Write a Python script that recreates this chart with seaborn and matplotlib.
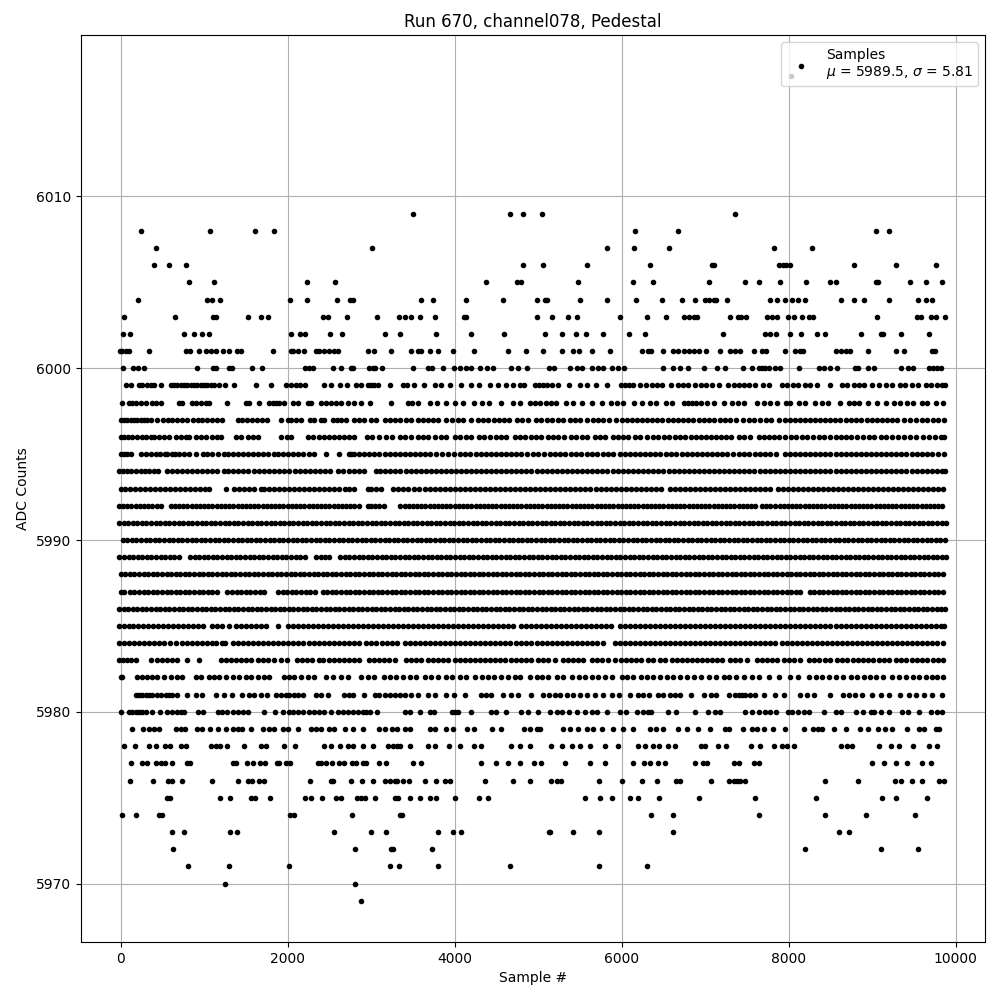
import matplotlib
matplotlib.use("Agg")
import matplotlib.pyplot as plt
import seaborn as sns
import pandas as pd

L6017 = [8030]
L6009 = [3500, 4660, 4820, 5050, 7360]
L6008 = [248, 1076, 1604, 1832, 6160, 6680, 9040, 9200]
L6007 = [428, 3008, 5820, 6150, 6570, 7820, 8280]
L6006 = [404, 584, 788, 4820, 5060, 5580, 6340, 7080, 7110, 7880, 7930, 7970, 8010, 8780, 9280, 9760]
L6005 = [824, 1124, 2228, 2564, 4380, 4750, 4800, 5480, 6130, 6380, 7040, 7480, 7640, 7900, 8210, 8500, 8560, 9040, 9070, 9450, 9640, 9840]
L6004 = [212, 1040, 1100, 1196, 2024, 2228, 2588, 2750, 2780, 3600, 3740, 4140, 4580, 4980, 5080, 5110, 5500, 5830, 6170, 6480, 6720, 6880, 7000, 7040, 7100, 7130, 7260, 7780, 7860, 7950, 8040, 8110, 8190, 8620, 8780, 8900, 9200, 9550, 9640, 9720]
L6003 = [44, 656, 1112, 1140, 1520, 1676, 1760, 2420, 2480, 2708, 3068, 3332, 3400, 3480, 3590, 3760, 4110, 4140, 4980, 5160, 5360, 5470, 5980, 6300, 6530, 6740, 6800, 6860, 6900, 7300, 7390, 7430, 7490, 7740, 7800, 7860, 7990, 8060, 8160, 8240, 8290, 9060, 9540, 9580, 9700, 9760, 9870]
L6002 = [32, 116, 764, 884, 980, 1064, 2036, 2144, 2204, 2504, 2648, 3164, 3340, 3780, 4200, 4590, 5080, 5290, 5450, 5570, 5780, 6090, 6280, 7210, 7720, 7780, 7850, 8020, 8150, 8340, 8440, 8870, 9100, 9130, 9340, 9680]
L6001 = [-12, 20, 60, 100, 344, 788, 828, 944, 1028, 1088, 1148, 1232, 1304, 1388, 1436, 1820, 2036, 2068, 2124, 2200, 2340, 2380, 2440, 2492, 2552, 2604, 2960, 3032, 3240, 3480, 3560, 3600, 3700, 3800, 3980, 4230, 4640, 4860, 5060, 5280, 5420, 5490, 5650, 5860, 6240, 6310, 6350, 6500, 6610, 6680, 6740, 6810, 6860, 6920, 7010, 7180, 7300, 7360, 7420, 7580, 7680, 7730, 7960, 8080, 8130, 8170, 8560, 8630, 8680, 8730, 8950, 9280, 9380, 9720, 9750]
L6000 = [32, 152, 212, 284, 920, 1112, 1148, 1300, 1332, 1568, 1688, 2208, 2252, 2300, 2540, 2640, 2760, 2788, 2972, 3020, 3052, 3132, 3500, 3680, 3730, 3860, 3990, 4060, 4130, 4200, 4300, 4390, 4460, 4670, 4760, 4870, 5130, 5190, 5380, 5460, 5530, 5650, 5720, 5780, 5880, 5950, 6030, 6500, 6610, 6700, 6790, 6980, 7140, 7240, 7450, 7560, 7640, 7680, 7720, 7760, 7830, 7890, 8120, 8360, 8420, 8490, 8580, 8790, 8830, 8950, 9020, 9340, 9430, 9490, 9680, 9730, 9770, 9820]
L5999 = [60, 128, 220, 260, 312, 360, 400, 480, 600, 640, 680, 720, 760, 800, 840, 880, 920, 960, 1000, 1040, 1080, 1120, 1180, 1256, 1352, 1616, 1796, 1980, 2040, 2100, 2152, 2208, 2432, 2520, 2632, 2708, 2820, 2880, 2960, 3000, 3040, 3080, 3224, 3380, 3430, 3510, 3630, 3770, 3840, 3950, 4080, 4200, 4290, 4420, 4520, 4620, 4700, 4780, 4830, 4960, 5010, 5060, 5100, 5160, 5240, 5370, 5500, 5590, 5690, 5830, 5990, 6040, 6090, 6140, 6220, 6290, 6360, 6420, 6480, 6590, 6670, 6730, 6790, 6880, 6950, 7010, 7080, 7160, 7270, 7340, 7400, 7470, 7530, 7600, 7690, 7760, 7920, 7980, 8050, 8110, 8200, 8250, 8340, 8500, 8640, 8700, 8780, 8840, 8900, 9000, 9080, 9160, 9240, 9330, 9390, 9470, 9550, 9640, 9700, 9770, 9840, 9870]
L5998 = [20, 100, 140, 180, 240, 300, 380, 420, 480, 700, 740, 860, 900, 960, 1020, 1060, 1280, 1500, 1540, 1660, 1780, 1820, 1860, 1900, 1960, 2060, 2120, 2240, 2280, 2400, 2460, 2520, 2580, 2640, 2720, 2800, 2880, 2990, 3240, 3440, 3490, 3560, 3700, 3790, 3900, 4010, 4100, 4230, 4330, 4410, 4560, 4700, 4780, 4900, 4960, 5020, 5090, 5150, 5210, 5330, 5420, 5530, 5650, 5770, 5870, 5940, 6020, 6150, 6240, 6340, 6410, 6530, 6600, 6740, 6790, 6840, 6890, 6950, 7020, 7100, 7220, 7320, 7390, 7460, 7620, 7700, 7780, 7860, 7970, 8010, 8120, 8190, 8320, 8400, 8470, 8610, 8720, 8780, 8840, 8950, 9060, 9160, 9260, 9330, 9420, 9490, 9600, 9660, 9760, 9850]
L5997 = [0, 40, 80, 120, 160, 200, 240, 280, 320, 370, 430, 510, 570, 620, 680, 740, 800, 870, 930, 980, 1040, 1090, 1150, 1220, 1400, 1450, 1510, 1570, 1630, 1690, 1750, 1920, 2000, 2040, 2100, 2160, 2270, 2320, 2400, 2440, 2540, 2590, 2640, 2700, 2800, 2860, 2920, 3000, 3060, 3160, 3230, 3290, 3340, 3420, 3480, 3560, 3620, 3680, 3740, 3800, 3900, 3970, 4040, 4100, 4190, 4280, 4340, 4400, 4470, 4530, 4590, 4650, 4750, 4810, 4880, 4970, 5030, 5100, 5170, 5240, 5300, 5380, 5440, 5500, 5590, 5660, 5720, 5780, 5850, 5930, 6000, 6060, 6120, 6180, 6240, 6300, 6360, 6420, 6480, 6550, 6610, 6670, 6730, 6790, 6850, 6920, 6980, 7040, 7110, 7180, 7240, 7300, 7370, 7450, 7520, 7590, 7660, 7730, 7790, 7880, 7950, 8010, 8070, 8130, 8190, 8250, 8310, 8370, 8430, 8490, 8550, 8610, 8680, 8750, 8810, 8870, 8940, 9000, 9060, 9120, 9180, 9240, 9300, 9380, 9450, 9520, 9590, 9660, 9730, 9790, 9860]
L5996 = [0, 40, 90, 140, 200, 260, 310, 360, 400, 460, 520, 580, 660, 720, 780, 820, 900, 960, 1020, 1100, 1160, 1200, 1380, 1440, 1520, 1590, 1650, 1920, 1990, 2040, 2240, 2300, 2380, 2430, 2500, 2560, 2620, 2680, 2740, 2800, 2950, 3010, 3100, 3180, 3250, 3340, 3410, 3480, 3560, 3620, 3680, 3760, 3840, 3900, 4000, 4060, 4140, 4200, 4290, 4350, 4420, 4490, 4560, 4620, 4720, 4780, 4840, 4910, 4970, 5030, 5120, 5180, 5240, 5310, 5390, 5450, 5520, 5590, 5680, 5740, 5800, 5900, 5960, 6020, 6080, 6160, 6220, 6300, 6370, 6430, 6510, 6570, 6640, 6700, 6760, 6830, 6890, 6950, 7010, 7070, 7130, 7190, 7250, 7310, 7400, 7470, 7540, 7640, 7700, 7760, 7820, 7880, 7950, 8030, 8090, 8160, 8220, 8290, 8360, 8420, 8490, 8560, 8620, 8690, 8750, 8820, 8890, 8960, 9020, 9100, 9170, 9240, 9310, 9380, 9450, 9520, 9610, 9680, 9750, 9820, 9860]
L5995 = [0, 40, 80, 120, 240, 300, 370, 420, 470, 530, 560, 610, 650, 700, 760, 820, 900, 990, 1040, 1100, 1170, 1240, 1290, 1350, 1400, 1460, 1530, 1590, 1640, 1700, 1760, 1840, 1890, 1940, 2000, 2060, 2120, 2180, 2250, 2320, 2460, 2620, 2730, 2760, 2800, 2850, 2920, 2980, 3040, 3100, 3160, 3220, 3280, 3340, 3400, 3460, 3530, 3590, 3650, 3710, 3780, 3850, 3920, 3990, 4060, 4120, 4180, 4250, 4310, 4370, 4430, 4490, 4550, 4610, 4670, 4730, 4790, 4870, 4940, 5000, 5070, 5140, 5200, 5260, 5320, 5390, 5450, 5510, 5580, 5640, 5710, 5780, 5840, 5900, 5980, 6040, 6100, 6160, 6220, 6280, 6340, 6400, 6460, 6530, 6590, 6650, 6720, 6780, 6840, 6900, 6960, 7020, 7080, 7140, 7200, 7260, 7330, 7400, 7470, 7530, 7600, 7660, 7720, 7780, 7850, 7950, 8010, 8070, 8130, 8190, 8250, 8310, 8370, 8430, 8500, 8560, 8620, 8680, 8740, 8800, 8870, 8930, 8990, 9050, 9110, 9170, 9230, 9290, 9350, 9410, 9470, 9530, 9590, 9660, 9720, 9790, 9860]
L5994 = [-20, 30, 80, 130, 180, 240, 290, 340, 400, 450, 550, 610, 670, 730, 790, 850, 910, 970, 1030, 1090, 1160, 1240, 1290, 1350, 1410, 1470, 1530, 1600, 1660, 1720, 1780, 1840, 1900, 1960, 2020, 2090, 2150, 2210, 2270, 2330, 2390, 2450, 2510, 2600, 2660, 2740, 2790, 2850, 2910, 3060, 3110, 3170, 3230, 3290, 3350, 3420, 3480, 3540, 3600, 3660, 3720, 3780, 3840, 3900, 3960, 4020, 4080, 4140, 4200, 4260, 4320, 4380, 4440, 4500, 4560, 4620, 4680, 4740, 4800, 4860, 4920, 4980, 5040, 5100, 5160, 5220, 5280, 5340, 5400, 5460, 5520, 5580, 5640, 5700, 5770, 5830, 5900, 5960, 6020, 6080, 6140, 6200, 6260, 6320, 6380, 6440, 6500, 6570, 6630, 6690, 6750, 6810, 6870, 6930, 6990, 7050, 7110, 7170, 7230, 7290, 7350, 7410, 7470, 7530, 7590, 7650, 7710, 7780, 7840, 7900, 7960, 8020, 8080, 8140, 8200, 8260, 8320, 8380, 8440, 8500, 8560, 8620, 8680, 8740, 8810, 8870, 8930, 8990, 9050, 9110, 9170, 9230, 9290, 9350, 9410, 9470, 9530, 9590, 9650, 9710, 9770, 9830, 9870]
L5993 = [0, 50, 110, 170, 230, 290, 350, 410, 470, 530, 590, 650, 710, 770, 830, 890, 950, 1010, 1060, 1260, 1360, 1420, 1480, 1540, 1600, 1680, 1720, 1780, 1840, 1900, 1960, 2020, 2080, 2140, 2200, 2260, 2320, 2380, 2440, 2500, 2560, 2620, 2690, 2740, 2800, 2960, 3000, 3060, 3120, 3260, 3320, 3380, 3440, 3510, 3570, 3640, 3700, 3760, 3820, 3880, 3940, 4000, 4060, 4120, 4180, 4240, 4300, 4360, 4420, 4480, 4540, 4600, 4660, 4720, 4780, 4840, 4900, 4960, 5020, 5080, 5140, 5200, 5260, 5320, 5380, 5440, 5500, 5560, 5620, 5690, 5750, 5810, 5870, 5930, 5990, 6050, 6110, 6170, 6230, 6290, 6350, 6410, 6470, 6580, 6640, 6700, 6760, 6820, 6880, 6940, 7000, 7060, 7120, 7180, 7240, 7300, 7360, 7420, 7480, 7540, 7600, 7660, 7720, 7780, 7870, 7930, 7990, 8050, 8110, 8170, 8230, 8290, 8350, 8410, 8470, 8530, 8590, 8650, 8710, 8770, 8830, 8890, 8950, 9010, 9070, 9130, 9190, 9250, 9310, 9370, 9430, 9490, 9550, 9610, 9670, 9730, 9790, 9850]
L5992 = [-20, 30, 80, 130, 180, 230, 280, 330, 380, 430, 480, 600, 650, 700, 750, 800, 850, 900, 950, 1000, 1050, 1100, 1150, 1200, 1250, 1300, 1350, 1400, 1450, 1500, 1550, 1600, 1650, 1700, 1750, 1800, 1850, 1900, 1950, 2000, 2050, 2100, 2150, 2200, 2250, 2300, 2350, 2400, 2450, 2500, 2550, 2600, 2650, 2700, 2750, 2800, 2850, 2960, 3000, 3050, 3100, 3150, 3340, 3400, 3450, 3500, 3550, 3600, 3650, 3700, 3750, 3800, 3850, 3900, 3950, 4000, 4050, 4100, 4150, 4200, 4250, 4300, 4350, 4400, 4450, 4500, 4550, 4600, 4650, 4700, 4750, 4800, 4850, 4900, 4950, 5000, 5050, 5100, 5150, 5200, 5250, 5300, 5350, 5400, 5450, 5500, 5550, 5600, 5650, 5700, 5750, 5800, 5850, 5900, 5950, 6000, 6050, 6100, 6150, 6200, 6250, 6300, 6350, 6400, 6450, 6500, 6550, 6600, 6650, 6700, 6750, 6800, 6850, 6900, 6950, 7000, 7050, 7100, 7150, 7200, 7250, 7300, 7350, 7400, 7450, 7500, 7550, 7600, 7680, 7730, 7780, 7840, 7890, 7940, 7990, 8040, 8090, 8140, 8190, 8240, 8290, 8340, 8390, 8440, 8490, 8540, 8590, 8640, 8690, 8740, 8790, 8840, 8890, 8940, 8990, 9040, 9090, 9140, 9190, 9240, 9290, 9340, 9390, 9440, 9490, 9540, 9590, 9640, 9690, 9740, 9790, 9840]
L5991 = [-15, 35, 90, 145, 200, 255, 310, 365, 420, 475, 530, 585, 640, 695, 750, 805, 860, 915, 970, 1025, 1080, 1135, 1190, 1245, 1300, 1355, 1410, 1465, 1520, 1575, 1630, 1685, 1740, 1795, 1850, 1905, 1960, 2015, 2070, 2125, 2180, 2235, 2290, 2345, 2400, 2455, 2510, 2565, 2620, 2675, 2730, 2785, 2840, 2895, 2950, 3005, 3060, 3115, 3170, 3225, 3280, 3335, 3390, 3445, 3500, 3555, 3610, 3665, 3720, 3775, 3830, 3885, 3940, 3995, 4050, 4105, 4160, 4215, 4270, 4325, 4380, 4435, 4490, 4545, 4600, 4655, 4710, 4765, 4820, 4875, 4930, 4985, 5040, 5095, 5150, 5205, 5260, 5315, 5370, 5425, 5480, 5535, 5590, 5645, 5700, 5755, 5810, 5865, 5920, 5975, 6030, 6085, 6140, 6195, 6250, 6305, 6360, 6415, 6470, 6525, 6580, 6640, 6695, 6750, 6805, 6860, 6915, 6970, 7025, 7080, 7135, 7190, 7245, 7300, 7355, 7410, 7465, 7520, 7575, 7630, 7685, 7740, 7795, 7850, 7905, 7960, 8015, 8070, 8125, 8180, 8235, 8290, 8345, 8400, 8455, 8510, 8565, 8620, 8675, 8730, 8785, 8840, 8895, 8950, 9005, 9060, 9115, 9170, 9225, 9280, 9335, 9390, 9445, 9500, 9555, 9610, 9665, 9720, 9775, 9830, 9880]
L5990 = [25, 80, 135, 190, 245, 300, 355, 410, 465, 520, 575, 630, 685, 740, 795, 850, 905, 960, 1015, 1070, 1125, 1180, 1235, 1290, 1345, 1400, 1455, 1510, 1565, 1620, 1675, 1730, 1785, 1840, 1895, 1950, 2005, 2060, 2115, 2170, 2225, 2280, 2335, 2390, 2445, 2500, 2555, 2610, 2665, 2720, 2775, 2830, 2885, 2940, 2995, 3050, 3105, 3160, 3215, 3270, 3325, 3380, 3435, 3490, 3545, 3600, 3655, 3710, 3765, 3820, 3875, 3930, 3985, 4040, 4095, 4150, 4205, 4260, 4315, 4370, 4425, 4480, 4535, 4590, 4645, 4700, 4755, 4810, 4865, 4920, 4975, 5030, 5085, 5140, 5195, 5250, 5305, 5360, 5415, 5470, 5525, 5580, 5635, 5690, 5745, 5800, 5855, 5910, 5965, 6020, 6075, 6130, 6185, 6240, 6295, 6350, 6405, 6460, 6515, 6570, 6625, 6680, 6735, 6790, 6845, 6900, 6955, 7010, 7065, 7120, 7175, 7230, 7285, 7340, 7395, 7450, 7505, 7560, 7615, 7670, 7725, 7780, 7835, 7890, 7945, 8000, 8055, 8110, 8165, 8220, 8275, 8330, 8385, 8440, 8495, 8550, 8605, 8660, 8715, 8770, 8825, 8880, 8935, 8990, 9045, 9100, 9155, 9210, 9265, 9320, 9375, 9430, 9485, 9540, 9595, 9650, 9705, 9760, 9815, 9870]
L5989 = [-15, 40, 95, 150, 205, 260, 315, 370, 425, 480, 535, 590, 645, 700, 830, 885, 940, 995, 1050, 1105, 1160, 1215, 1270, 1325, 1380, 1435, 1490, 1545, 1600, 1655, 1710, 1765, 1820, 1875, 1930, 1985, 2040, 2095, 2150, 2205, 2340, 2395, 2450, 2500, 2630, 2685, 2740, 2795, 2850, 2905, 2960, 3015, 3070, 3125, 3180, 3235, 3290, 3345, 3400, 3455, 3510, 3565, 3620, 3675, 3730, 3785, 3840, 3895, 3950, 4005, 4060, 4115, 4170, 4225, 4280, 4335, 4390, 4445, 4500, 4555, 4610, 4665, 4720, 4775, 4830, 4885, 4940, 4995, 5050, 5105, 5160, 5215, 5270, 5325, 5380, 5435, 5490, 5545, 5600, 5655, 5710, 5765, 5820, 5875, 5930, 5985, 6040, 6095, 6150, 6205, 6260, 6315, 6370, 6425, 6480, 6535, 6590, 6645, 6700, 6755, 6810, 6865, 6920, 6975, 7030, 7085, 7140, 7195, 7250, 7305, 7360, 7415, 7470, 7525, 7580, 7635, 7690, 7745, 7800, 7855, 7910, 7965, 8020, 8075, 8130, 8185, 8240, 8295, 8350, 8405, 8460, 8515, 8570, 8625, 8680, 8735, 8790, 8845, 8900, 8955, 9010, 9065, 9120, 9175, 9230, 9285, 9340, 9395, 9450, 9505, 9560, 9615, 9670, 9725, 9780, 9835, 9880]
L5988 = [0, 55, 110, 165, 220, 275, 330, 385, 440, 495, 550, 605, 660, 715, 770, 825, 880, 935, 990, 1045, 1100, 1155, 1210, 1265, 1320, 1375, 1430, 1485, 1540, 1595, 1650, 1705, 1760, 1815, 1870, 1925, 1980, 2035, 2090, 2145, 2200, 2255, 2310, 2365, 2420, 2475, 2530, 2585, 2640, 2695, 2750, 2805, 2860, 2915, 2970, 3025, 3080, 3135, 3190, 3245, 3300, 3355, 3410, 3465, 3520, 3575, 3630, 3685, 3740, 3795, 3850, 3905, 3960, 4015, 4070, 4125, 4180, 4235, 4290, 4345, 4400, 4455, 4510, 4565, 4620, 4675, 4730, 4785, 4840, 4895, 4950, 5005, 5060, 5115, 5170, 5225, 5280, 5335, 5390, 5445, 5500, 5555, 5610, 5665, 5720, 5775, 5830, 5885, 5940, 5995, 6050, 6105, 6160, 6215, 6270, 6325, 6380, 6435, 6490, 6545, 6600, 6655, 6710, 6765, 6820, 6875, 6930, 6985, 7040, 7095, 7150, 7205, 7260, 7315, 7370, 7425, 7480, 7535, 7590, 7645, 7700, 7755, 7810, 7865, 7920, 7975, 8030, 8085, 8140, 8195, 8250, 8305, 8360, 8415, 8470, 8525, 8580, 8635, 8690, 8745, 8800, 8855, 8910, 8965, 9020, 9075, 9130, 9185, 9240, 9295, 9350, 9405, 9460, 9515, 9570, 9625, 9680, 9735, 9790, 9845]
L5987 = [0, 40, 110, 165, 220, 275, 330, 385, 440, 495, 550, 605, 660, 715, 770, 825, 880, 935, 990, 1045, 1100, 1160, 1280, 1335, 1390, 1445, 1500, 1555, 1610, 1665, 1720, 1880, 1940, 1995, 2050, 2105, 2160, 2215, 2270, 2325, 2420, 2475, 2530, 2585, 2640, 2695, 2750, 2805, 2860, 2915, 2970, 3025, 3080, 3135, 3190, 3245, 3300, 3355, 3410, 3465, 3520, 3575, 3630, 3685, 3740, 3795, 3850, 3905, 3960, 4015, 4070, 4125, 4180, 4235, 4290, 4345, 4400, 4455, 4510, 4565, 4620, 4675, 4730, 4785, 4840, 4895, 4950, 5005, 5060, 5115, 5170, 5225, 5280, 5335, 5390, 5445, 5500, 5555, 5610, 5665, 5720, 5775, 5830, 5885, 5940, 5995, 6050, 6105, 6160, 6215, 6270, 6325, 6380, 6435, 6490, 6545, 6600, 6655, 6710, 6765, 6820, 6875, 6930, 6985, 7040, 7095, 7150, 7205, 7260, 7315, 7370, 7425, 7480, 7535, 7590, 7645, 7700, 7755, 7810, 7865, 7920, 7975, 8030, 8085, 8140, 8250, 8305, 8360, 8415, 8470, 8525, 8580, 8635, 8690, 8745, 8800, 8855, 8910, 8965, 9020, 9075, 9130, 9185, 9240, 9295, 9350, 9405, 9460, 9515, 9570, 9625, 9680, 9735, 9790, 9845]
L5986 = [-20, 35, 90, 145, 200, 255, 310, 365, 420, 475, 530, 585, 640, 695, 750, 805, 860, 915, 970, 1025, 1080, 1135, 1190, 1245, 1300, 1355, 1410, 1465, 1520, 1575, 1630, 1685, 1740, 1795, 1850, 1905, 1960, 2015, 2070, 2125, 2180, 2235, 2290, 2345, 2400, 2455, 2510, 2565, 2620, 2675, 2730, 2785, 2840, 2895, 2950, 3005, 3060, 3115, 3170, 3225, 3280, 3335, 3390, 3445, 3500, 3555, 3610, 3665, 3720, 3775, 3830, 3885, 3940, 3995, 4050, 4105, 4160, 4215, 4270, 4325, 4380, 4435, 4490, 4545, 4600, 4655, 4710, 4765, 4820, 4875, 4930, 4985, 5040, 5095, 5150, 5205, 5260, 5315, 5370, 5425, 5480, 5535, 5590, 5645, 5700, 5755, 5810, 5865, 5920, 5975, 6030, 6085, 6140, 6195, 6250, 6305, 6360, 6415, 6470, 6525, 6580, 6635, 6690, 6745, 6800, 6855, 6910, 6965, 7020, 7075, 7130, 7185, 7240, 7295, 7350, 7405, 7460, 7515, 7570, 7625, 7680, 7735, 7790, 7845, 7900, 7955, 8010, 8065, 8120, 8175, 8230, 8285, 8340, 8395, 8450, 8505, 8560, 8615, 8670, 8725, 8780, 8835, 8890, 8945, 9000, 9055, 9110, 9165, 9220, 9275, 9330, 9385, 9440, 9495, 9550, 9605, 9660, 9715, 9770, 9825, 9870]
L5985 = [-20, 40, 95, 150, 210, 270, 330, 390, 450, 510, 570, 630, 690, 750, 810, 870, 930, 990, 1100, 1160, 1220, 1300, 1380, 1440, 1500, 1560, 1620, 1680, 1740, 1880, 2000, 2060, 2120, 2180, 2240, 2300, 2360, 2420, 2480, 2540, 2600, 2660, 2720, 2780, 2840, 2900, 2960, 3020, 3080, 3140, 3200, 3260, 3320, 3380, 3440, 3500, 3560, 3620, 3680, 3740, 3800, 3860, 3920, 3980, 4040, 4100, 4160, 4220, 4280, 4340, 4400, 4460, 4520, 4580, 4640, 4700, 4790, 4850, 4910, 4970, 5030, 5090, 5150, 5210, 5270, 5330, 5390, 5450, 5510, 5570, 5630, 5690, 5750, 5810, 5870, 5980, 6040, 6100, 6160, 6220, 6280, 6340, 6400, 6460, 6520, 6580, 6640, 6700, 6760, 6820, 6880, 6940, 7000, 7060, 7120, 7180, 7240, 7300, 7360, 7420, 7480, 7540, 7600, 7660, 7720, 7780, 7840, 7900, 7960, 8020, 8080, 8140, 8200, 8260, 8320, 8380, 8440, 8500, 8560, 8620, 8680, 8740, 8800, 8860, 8920, 8980, 9040, 9100, 9160, 9220, 9280, 9340, 9400, 9460, 9520, 9580, 9640, 9700, 9760, 9820, 9860]
L5984 = [-20, 40, 100, 160, 220, 280, 340, 400, 460, 520, 590, 660, 740, 800, 860, 920, 980, 1040, 1100, 1140, 1220, 1250, 1340, 1400, 1460, 1520, 1580, 1640, 1700, 1760, 1830, 1890, 1950, 2010, 2070, 2130, 2190, 2250, 2310, 2370, 2430, 2490, 2550, 2610, 2680, 2740, 2800, 2860, 2940, 3000, 3060, 3130, 3190, 3250, 3310, 3400, 3460, 3520, 3580, 3640, 3700, 3760, 3820, 3880, 3940, 4000, 4060, 4120, 4180, 4240, 4300, 4360, 4420, 4480, 4540, 4600, 4660, 4740, 4800, 4860, 4920, 4980, 5040, 5100, 5160, 5220, 5280, 5340, 5400, 5460, 5520, 5580, 5640, 5700, 5780, 5920, 5980, 6040, 6100, 6160, 6220, 6280, 6340, 6400, 6460, 6520, 6580, 6640, 6700, 6760, 6820, 6880, 6940, 7000, 7060, 7120, 7180, 7240, 7300, 7360, 7420, 7480, 7540, 7600, 7660, 7720, 7780, 7840, 7920, 7980, 8040, 8100, 8160, 8220, 8280, 8340, 8400, 8460, 8520, 8580, 8640, 8700, 8760, 8820, 8880, 8940, 9000, 9060, 9120, 9180, 9240, 9300, 9360, 9420, 9480, 9540, 9600, 9660, 9720, 9780, 9850]
L5983 = [-20, 30, 80, 130, 180, 360, 440, 500, 560, 620, 680, 800, 940, 1200, 1260, 1320, 1380, 1440, 1500, 1560, 1640, 1700, 1760, 1840, 1920, 1990, 2110, 2170, 2230, 2290, 2370, 2420, 2500, 2560, 2620, 2680, 2740, 2800, 2860, 2970, 3030, 3090, 3150, 3210, 3290, 3420, 3480, 3540, 3600, 3680, 3740, 3800, 3860, 3920, 4000, 4060, 4120, 4180, 4240, 4300, 4360, 4420, 4480, 4540, 4600, 4680, 4740, 4800, 4860, 4920, 5000, 5060, 5120, 5200, 5300, 5360, 5420, 5480, 5540, 5640, 5700, 5760, 5840, 5920, 5990, 6050, 6110, 6170, 6230, 6320, 6380, 6460, 6520, 6600, 6660, 6720, 6780, 6840, 6900, 6960, 7020, 7080, 7140, 7200, 7300, 7360, 7420, 7500, 7620, 7680, 7740, 7800, 7860, 7940, 8000, 8060, 8140, 8240, 8300, 8360, 8440, 8500, 8580, 8640, 8700, 8770, 8830, 8890, 8950, 9010, 9080, 9140, 9200, 9280, 9340, 9400, 9470, 9530, 9600, 9660, 9730, 9790, 9850]
L5982 = [0, 20, 200, 260, 320, 380, 440, 520, 600, 680, 740, 900, 960, 1060, 1120, 1180, 1260, 1340, 1420, 1500, 1560, 1640, 1720, 1780, 1960, 2020, 2080, 2160, 2240, 2320, 2460, 2540, 2640, 2720, 2880, 2960, 3040, 3150, 3220, 3300, 3380, 3460, 3540, 3640, 3720, 3800, 3900, 3970, 4060, 4140, 4240, 4330, 4400, 4470, 4560, 4640, 4720, 4780, 4900, 4980, 5040, 5120, 5220, 5300, 5400, 5490, 5560, 5640, 5720, 5800, 5880, 6000, 6060, 6140, 6230, 6300, 6380, 6460, 6540, 6620, 6700, 6780, 6860, 6950, 7040, 7130, 7220, 7290, 7370, 7460, 7560, 7640, 7760, 7880, 8020, 8110, 8240, 8330, 8400, 8480, 8560, 8650, 8740, 8820, 8900, 8970, 9050, 9130, 9240, 9320, 9400, 9490, 9560, 9640, 9710, 9780, 9850]
L5981 = [180, 220, 260, 300, 340, 380, 440, 480, 540, 580, 620, 680, 800, 908, 980, 1148, 1244, 1328, 1448, 1540, 1600, 1680, 1748, 1860, 1920, 1980, 2020, 2080, 2120, 2180, 2340, 2400, 2480, 2680, 2740, 2780, 2912, 3052, 3100, 3160, 3220, 3280, 3340, 3400, 3480, 3560, 3680, 3760, 3900, 3990, 4120, 4320, 4380, 4440, 4580, 4680, 4760, 4920, 5060, 5130, 5200, 5260, 5340, 5420, 5500, 5590, 5680, 5780, 5880, 5970, 6100, 6200, 6260, 6330, 6440, 6500, 6580, 6640, 6700, 6830, 6990, 7070, 7130, 7290, 7360, 7400, 7440, 7480, 7540, 7600, 7700, 7830, 7940, 8140, 8220, 8300, 8500, 8650, 8720, 8790, 8880, 9000, 9100, 9200, 9330, 9440, 9520, 9620, 9720, 9840]
L5980 = [0, 100, 140, 180, 220, 260, 300, 380, 476, 560, 620, 680, 720, 760, 932, 992, 1172, 1220, 1280, 1340, 1400, 1460, 1520, 1712, 1852, 1940, 2020, 2070, 2120, 2180, 2260, 2320, 2380, 2440, 2520, 2600, 2660, 2720, 2780, 2840, 2900, 2940, 2988, 3068, 3400, 3460, 3580, 3700, 3750, 3970, 4010, 4040, 4190, 4430, 4500, 4620, 4800, 4880, 5000, 5140, 5220, 5290, 5370, 5460, 5560, 5640, 5700, 5830, 5980, 6050, 6180, 6260, 6310, 6350, 6560, 6650, 6880, 7030, 7120, 7180, 7480, 7560, 7640, 7710, 7780, 7850, 7990, 8040, 8110, 8180, 8240, 8420, 8570, 8620, 8800, 8890, 8980, 9020, 9110, 9200, 9360, 9430, 9560, 9700, 9780, 9840]
L5979 = [140, 272, 340, 400, 460, 660, 720, 772, 920, 980, 1076, 1172, 1268, 1340, 1400, 1452, 1556, 1700, 1772, 1840, 1940, 2000, 2120, 2280, 2340, 2400, 2500, 2560, 2688, 2780, 2900, 3100, 3160, 3252, 3308, 3400, 3470, 3700, 3760, 3900, 3980, 4150, 4230, 4450, 4560, 4830, 4900, 4980, 5020, 5300, 5380, 5480, 5580, 5660, 5760, 5900, 6020, 6130, 6340, 6410, 6490, 6670, 6780, 6910, 7060, 7240, 7290, 7450, 7560, 7620, 7700, 7810, 7950, 8180, 8290, 8350, 8400, 8540, 8690, 8850, 8950, 9070, 9150, 9240, 9420, 9560, 9620, 9760, 9800]
L5978 = [44, 176, 344, 428, 528, 592, 728, 780, 1080, 1140, 1188, 1280, 1472, 1684, 1736, 1952, 2084, 2432, 2520, 2624, 2720, 2780, 2900, 3028, 3200, 3260, 3308, 3340, 3470, 3680, 3760, 3930, 4060, 4230, 4310, 4680, 4780, 4900, 5150, 5280, 5400, 5500, 5620, 5800, 5950, 6190, 6280, 6380, 6450, 6560, 6640, 6950, 7000, 7150, 7250, 7550, 7650, 7820, 7920, 7980, 8060, 8630, 8700, 8760, 9080, 9230, 9320, 9490, 9680, 9770]
L5977 = [128, 260, 312, 428, 480, 532, 612, 800, 828, 1340, 1380, 1508, 1580, 1668, 1728, 1868, 1900, 1980, 2028, 2360, 2400, 2460, 2528, 2620, 2680, 2768, 2820, 2900, 2940, 3092, 3172, 3500, 3600, 4320, 4500, 4640, 4780, 4950, 5030, 5320, 5620, 5800, 6140, 6270, 6340, 6440, 6520, 6880, 6970, 7020, 7350, 7400, 7580, 7640, 9000, 9140, 9280, 9420, 9600, 9700]
L5976 = [116, 392, 572, 612, 740, 1100, 1400, 1520, 1568, 1652, 1712, 2264, 2520, 2540, 2756, 2888, 3020, 3160, 3220, 3280, 3308, 3380, 3450, 3640, 3780, 3880, 3940, 4360, 4700, 4900, 5150, 5220, 5270, 5730, 6000, 6240, 6420, 6650, 6700, 7070, 7290, 7340, 7380, 7420, 7480, 8430, 8830, 9270, 9350, 9480, 9600, 9800, 9860]
L5975 = [552, 588, 1196, 1316, 1556, 1604, 1784, 2204, 2276, 2408, 2580, 2640, 2828, 2880, 2932, 3044, 3280, 3320, 3470, 3590, 3700, 3780, 4000, 4290, 4400, 5560, 5740, 5880, 6100, 6190, 6450, 6920, 7600, 8330, 9120, 9280, 9650]
L5974 = [20, 188, 460, 500, 2028, 2072, 2768, 3340, 3370, 6350, 6620, 7640, 8430, 8930, 9510]
L5973 = [620, 764, 1316, 1388, 2552, 2996, 3176, 3800, 3980, 4080, 5130, 5145, 5420, 5730, 6620, 8600, 8720]
L5972 = [632, 2804, 3240, 3260, 3730, 8190, 9100, 9550]
L5971 = [812, 1304, 2012, 3224, 3328, 3800, 4660, 5730, 6300]
L5970 = [1256, 2804]
L5969 = [2876]

levels = {6017: L6017, 6009: L6009, 6008: L6008, 6007: L6007, 6006: L6006, 6005: L6005,
          6004: L6004, 6003: L6003, 6002: L6002, 6001: L6001, 6000: L6000, 5999: L5999,
          5998: L5998, 5997: L5997, 5996: L5996, 5995: L5995, 5994: L5994, 5993: L5993,
          5992: L5992, 5991: L5991, 5990: L5990, 5989: L5989, 5988: L5988, 5987: L5987,
          5986: L5986, 5985: L5985, 5984: L5984, 5983: L5983, 5982: L5982, 5981: L5981,
          5980: L5980, 5979: L5979, 5978: L5978, 5977: L5977, 5976: L5976, 5975: L5975,
          5974: L5974, 5973: L5973, 5972: L5972, 5971: L5971, 5970: L5970, 5969: L5969}
rows = [(x, y) for y, xs in levels.items() for x in xs]
df = pd.DataFrame(rows, columns=["s", "v"])
LABEL = "Samples\n$\\mu$ = 5989.5, $\\sigma$ = 5.81"

fig, ax = plt.subplots(figsize=(10, 10), dpi=100)
sns.scatterplot(data=df, x="s", y="v", marker=".", s=36, color="black", edgecolor="black",
                linewidth=1, label=LABEL, ax=ax, zorder=3)
ax.set_xlim(-480, 10350)
ax.set_ylim(5966.6, 6019.4)
ax.set_xticks(range(0, 10001, 2000))
ax.set_yticks(range(5970, 6011, 10))
ax.ticklabel_format(useOffset=False, style="plain")
ax.grid(True)
ax.set_title("Run 670, channel078, Pedestal")
ax.set_xlabel("Sample #")
ax.set_ylabel("ADC Counts")
ax.legend(loc="upper right")
fig.subplots_adjust(left=0.0805, right=0.985, top=0.965, bottom=0.058)
fig.savefig("out.png", dpi=100)
